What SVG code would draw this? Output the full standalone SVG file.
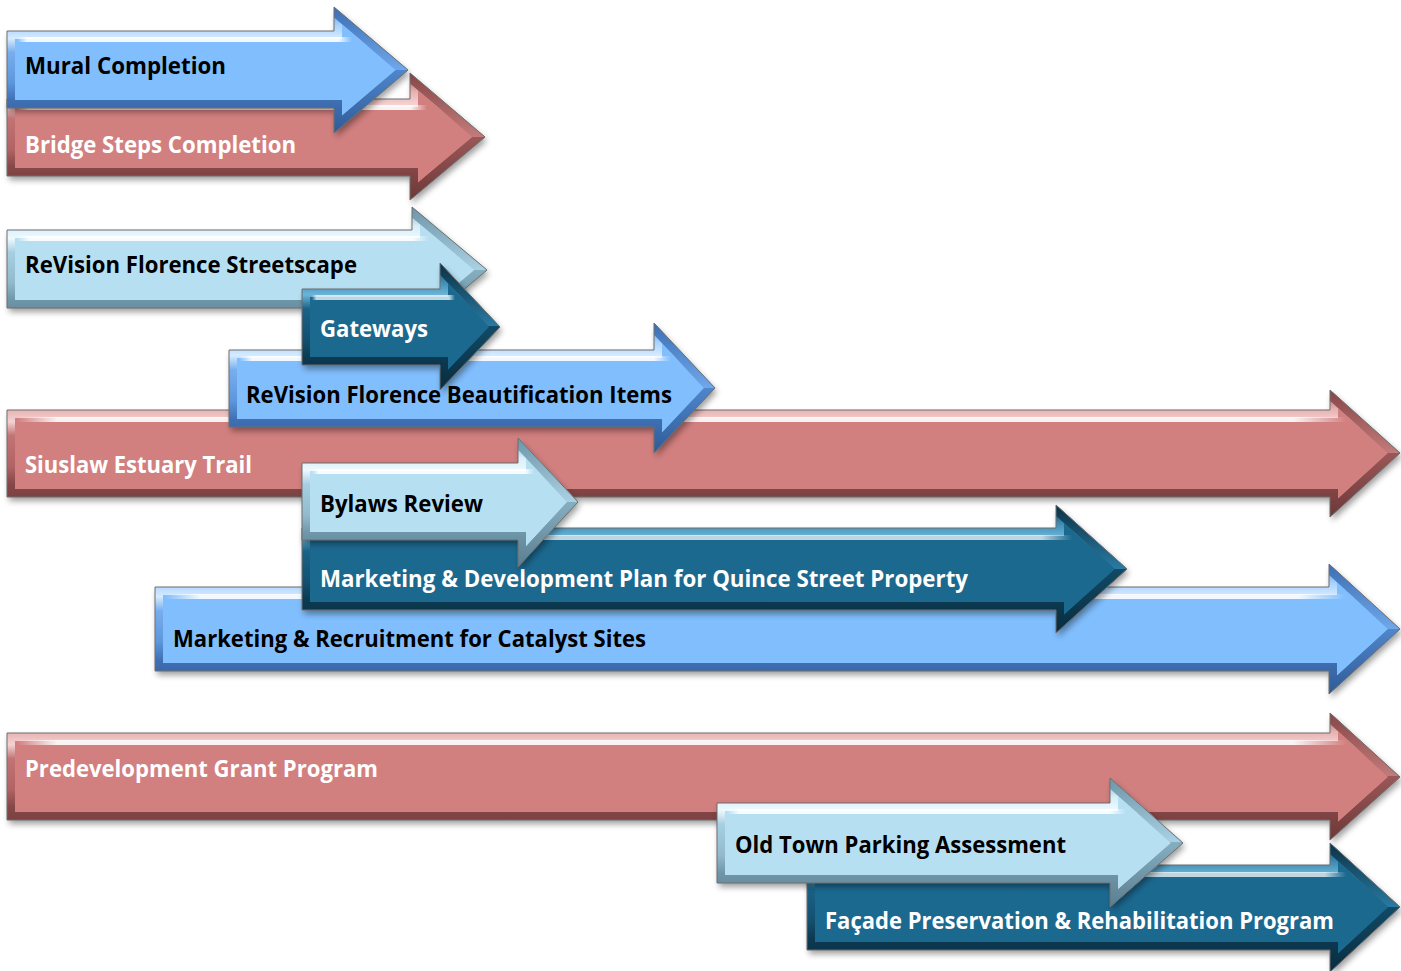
<svg xmlns="http://www.w3.org/2000/svg" width="1401" height="971" viewBox="0 0 1401 971">
<style>
.t{font-family:"Open Sans","Liberation Sans",sans-serif;font-weight:700;font-size:23px}
.dk{fill:#000}.wt{fill:#fff}
.sh{fill:#000;opacity:.38;filter:url(#blur)}
.ol{fill:none;stroke:#6f6f6f;stroke-width:1}
.bv{fill:none;stroke-width:16}
.hd{fill:none;stroke-width:16;stroke-linejoin:miter}
.fb{fill:#80BEFD}.fr{fill:#D27F7F}.fl{fill:#B7DFF2}.ft{fill:#1C6990}
</style>
<defs>
<filter id="blur" x="-5%" y="-30%" width="110%" height="160%"><feGaussianBlur stdDeviation="3"/></filter>
<linearGradient id="gb" x1="0" y1="0" x2="0" y2="1">
<stop offset="0" stop-color="#5A8FD4"/><stop offset="0.15" stop-color="#A9D2FF"/><stop offset="0.25" stop-color="#D6EBFF"/><stop offset="0.36" stop-color="#78AEEE"/><stop offset="0.6" stop-color="#5C96DC"/><stop offset="0.74" stop-color="#3F70B4"/><stop offset="1" stop-color="#2F5B96"/>
</linearGradient>
<linearGradient id="gr" x1="0" y1="0" x2="0" y2="1">
<stop offset="0" stop-color="#9A5555"/><stop offset="0.15" stop-color="#E7B2B2"/><stop offset="0.25" stop-color="#F4D2D2"/><stop offset="0.36" stop-color="#C27373"/><stop offset="0.6" stop-color="#B26464"/><stop offset="0.74" stop-color="#864747"/><stop offset="1" stop-color="#6E3838"/>
</linearGradient>
<linearGradient id="gl" x1="0" y1="0" x2="0" y2="1">
<stop offset="0" stop-color="#7FA6BA"/><stop offset="0.15" stop-color="#D6EEF9"/><stop offset="0.25" stop-color="#EEF9FE"/><stop offset="0.36" stop-color="#A6CFE2"/><stop offset="0.6" stop-color="#93BACC"/><stop offset="0.74" stop-color="#6F95A8"/><stop offset="1" stop-color="#5A7E90"/>
</linearGradient>
<linearGradient id="gt" x1="0" y1="0" x2="0" y2="1">
<stop offset="0" stop-color="#0E3F58"/><stop offset="0.15" stop-color="#3F8DB5"/><stop offset="0.25" stop-color="#6CB5D8"/><stop offset="0.36" stop-color="#1A6288"/><stop offset="0.6" stop-color="#13506F"/><stop offset="0.74" stop-color="#0C3A52"/><stop offset="1" stop-color="#082C3E"/>
</linearGradient>
<linearGradient id="hb" x1="0" y1="0" x2="0" y2="1">
<stop offset="0" stop-color="#3C6FB5"/><stop offset="0.5" stop-color="#6FA7EA"/><stop offset="0.5" stop-color="#4F86CC"/><stop offset="1" stop-color="#2F5B96"/>
</linearGradient>
<linearGradient id="hr" x1="0" y1="0" x2="0" y2="1">
<stop offset="0" stop-color="#884646"/><stop offset="0.5" stop-color="#C27B7B"/><stop offset="0.5" stop-color="#9A5757"/><stop offset="1" stop-color="#6E3838"/>
</linearGradient>
<linearGradient id="hl2" x1="0" y1="0" x2="0" y2="1">
<stop offset="0" stop-color="#6E95A8"/><stop offset="0.5" stop-color="#AAD1E3"/><stop offset="0.5" stop-color="#86AEC1"/><stop offset="1" stop-color="#5A7E90"/>
</linearGradient>
<linearGradient id="ht" x1="0" y1="0" x2="0" y2="1">
<stop offset="0" stop-color="#0B3246"/><stop offset="0.5" stop-color="#2A7AA2"/><stop offset="0.5" stop-color="#114A66"/><stop offset="1" stop-color="#082C3E"/>
</linearGradient>
<linearGradient id="hl" x1="0" y1="0" x2="1" y2="0">
<stop offset="0" stop-color="#fff" stop-opacity="0"/><stop offset="0.03" stop-color="#fff" stop-opacity="0.9"/><stop offset="0.96" stop-color="#fff" stop-opacity="0.9"/><stop offset="1" stop-color="#fff" stop-opacity="0"/>
</linearGradient>
<polygon id="p1" points="7,31 334,31 334,7 408,70 334,133 334,108 7,108"/>
<polygon id="p2" points="7,99 410,99 410,73 485,137 410,200 410,176 7,176"/>
<polygon id="p3" points="7,230 412,230 412,207 487,270 412,333 412,308 7,308"/>
<polygon id="p4" points="302,289 440,289 440,263 500,327 440,390 440,365 302,365"/>
<polygon id="p5" points="229,350 654,350 654,323 715,388 654,453 654,427 229,427"/>
<polygon id="p6" points="7,410 1330,410 1330,390 1400,453 1330,517 1330,497 7,497"/>
<polygon id="p7" points="302,463 518,463 518,438 578,502 518,567 518,540 302,540"/>
<polygon id="p8" points="302,528 1056,528 1056,505 1127,569 1056,633 1056,610 302,610"/>
<polygon id="p9" points="155,587 1329,587 1329,564 1400,629 1329,694 1329,671 155,671"/>
<polygon id="p10" points="7,733 1330,733 1330,713 1400,777 1330,840 1330,820 7,820"/>
<polygon id="p11" points="717,803 1110,803 1110,778 1183,843 1110,907 1110,883 717,883"/>
<polygon id="p12" points="807,865 1330,865 1330,843 1400,907 1330,972 1330,950 807,950"/>
<clipPath id="c1"><use href="#p1"/></clipPath>
<clipPath id="c2"><use href="#p2"/></clipPath>
<clipPath id="c3"><use href="#p3"/></clipPath>
<clipPath id="c4"><use href="#p4"/></clipPath>
<clipPath id="c5"><use href="#p5"/></clipPath>
<clipPath id="c6"><use href="#p6"/></clipPath>
<clipPath id="c7"><use href="#p7"/></clipPath>
<clipPath id="c8"><use href="#p8"/></clipPath>
<clipPath id="c9"><use href="#p9"/></clipPath>
<clipPath id="c10"><use href="#p10"/></clipPath>
<clipPath id="c11"><use href="#p11"/></clipPath>
<clipPath id="c12"><use href="#p12"/></clipPath>
</defs>
<rect width="1401" height="971" fill="#fff"/>
<g id="connectors"></g>

<g id="node-bridge-steps">
<use href="#p2" class="sh" transform="translate(2,4)"/>
<use href="#p2" class="fr"/>
<use href="#p2" class="bv" stroke="url(#gr)" clip-path="url(#c2)"/>
<polyline points="410,73 485,137 410,200" class="hd" stroke="url(#hr)" clip-path="url(#c2)"/>
<rect x="17" y="105" width="410" height="5" fill="url(#hl)" clip-path="url(#c2)"/>
<use href="#p2" class="ol"/>
<text class="t wt" x="25" y="153" textLength="271" lengthAdjust="spacingAndGlyphs">Bridge Steps Completion</text>
</g>

<g id="node-mural">
<use href="#p1" class="sh" transform="translate(2,4)"/>
<use href="#p1" class="fb"/>
<use href="#p1" class="bv" stroke="url(#gb)" clip-path="url(#c1)"/>
<polyline points="334,7 408,70 334,133" class="hd" stroke="url(#hb)" clip-path="url(#c1)"/>
<rect x="17" y="37" width="335" height="5" fill="url(#hl)" clip-path="url(#c1)"/>
<use href="#p1" class="ol"/>
<text class="t dk" x="25" y="74" textLength="201" lengthAdjust="spacingAndGlyphs">Mural Completion</text>
</g>

<g id="node-siuslaw">
<use href="#p6" class="sh" transform="translate(2,4)"/>
<use href="#p6" class="fr"/>
<use href="#p6" class="bv" stroke="url(#gr)" clip-path="url(#c6)"/>
<polyline points="1330,390 1400,453 1330,517" class="hd" stroke="url(#hr)" clip-path="url(#c6)"/>
<rect x="17" y="417" width="1330" height="5" fill="url(#hl)" clip-path="url(#c6)"/>
<use href="#p6" class="ol"/>
<text class="t wt" x="25" y="473" textLength="227" lengthAdjust="spacingAndGlyphs">Siuslaw Estuary Trail</text>
</g>

<g id="node-streetscape">
<use href="#p3" class="sh" transform="translate(2,4)"/>
<use href="#p3" class="fl"/>
<use href="#p3" class="bv" stroke="url(#gl)" clip-path="url(#c3)"/>
<polyline points="412,207 487,270 412,333" class="hd" stroke="url(#hl2)" clip-path="url(#c3)"/>
<rect x="17" y="236" width="412" height="5" fill="url(#hl)" clip-path="url(#c3)"/>
<use href="#p3" class="ol"/>
<text class="t dk" x="25" y="273" textLength="332" lengthAdjust="spacingAndGlyphs">ReVision Florence Streetscape</text>
</g>

<g id="node-beautification">
<use href="#p5" class="sh" transform="translate(2,4)"/>
<use href="#p5" class="fb"/>
<use href="#p5" class="bv" stroke="url(#gb)" clip-path="url(#c5)"/>
<polyline points="654,323 715,388 654,453" class="hd" stroke="url(#hb)" clip-path="url(#c5)"/>
<rect x="239" y="356" width="432" height="5" fill="url(#hl)" clip-path="url(#c5)"/>
<use href="#p5" class="ol"/>
<text class="t dk" x="246" y="403" textLength="426" lengthAdjust="spacingAndGlyphs">ReVision Florence Beautification Items</text>
</g>

<g id="node-gateways">
<use href="#p4" class="sh" transform="translate(2,4)"/>
<use href="#p4" class="ft"/>
<use href="#p4" class="bv" stroke="url(#gt)" clip-path="url(#c4)"/>
<polyline points="440,263 500,327 440,390" class="hd" stroke="url(#ht)" clip-path="url(#c4)"/>
<rect x="312" y="295" width="143" height="5" fill="url(#hl)" opacity="0.8" clip-path="url(#c4)"/>
<use href="#p4" class="ol"/>
<text class="t wt" x="320" y="337" textLength="108" lengthAdjust="spacingAndGlyphs">Gateways</text>
</g>

<g id="node-marketing-recruitment">
<use href="#p9" class="sh" transform="translate(2,4)"/>
<use href="#p9" class="fb"/>
<use href="#p9" class="bv" stroke="url(#gb)" clip-path="url(#c9)"/>
<polyline points="1329,564 1400,629 1329,694" class="hd" stroke="url(#hb)" clip-path="url(#c9)"/>
<rect x="165" y="594" width="1181" height="5" fill="url(#hl)" clip-path="url(#c9)"/>
<use href="#p9" class="ol"/>
<text class="t dk" x="173" y="647" textLength="473" lengthAdjust="spacingAndGlyphs">Marketing &amp; Recruitment for Catalyst Sites</text>
</g>

<g id="node-marketing-development">
<use href="#p8" class="sh" transform="translate(2,4)"/>
<use href="#p8" class="ft"/>
<use href="#p8" class="bv" stroke="url(#gt)" clip-path="url(#c8)"/>
<polyline points="1056,505 1127,569 1056,633" class="hd" stroke="url(#ht)" clip-path="url(#c8)"/>
<rect x="312" y="535" width="760" height="5" fill="url(#hl)" opacity="0.8" clip-path="url(#c8)"/>
<use href="#p8" class="ol"/>
<text class="t wt" x="320" y="587" textLength="648" lengthAdjust="spacingAndGlyphs">Marketing &amp; Development Plan for Quince Street Property</text>
</g>

<g id="node-bylaws">
<use href="#p7" class="sh" transform="translate(2,4)"/>
<use href="#p7" class="fl"/>
<use href="#p7" class="bv" stroke="url(#gl)" clip-path="url(#c7)"/>
<polyline points="518,438 578,502 518,567" class="hd" stroke="url(#hl2)" clip-path="url(#c7)"/>
<rect x="312" y="469" width="222" height="5" fill="url(#hl)" clip-path="url(#c7)"/>
<use href="#p7" class="ol"/>
<text class="t dk" x="320" y="512" textLength="163" lengthAdjust="spacingAndGlyphs">Bylaws Review</text>
</g>

<g id="node-predevelopment">
<use href="#p10" class="sh" transform="translate(2,4)"/>
<use href="#p10" class="fr"/>
<use href="#p10" class="bv" stroke="url(#gr)" clip-path="url(#c10)"/>
<polyline points="1330,713 1400,777 1330,840" class="hd" stroke="url(#hr)" clip-path="url(#c10)"/>
<rect x="17" y="740" width="1330" height="5" fill="url(#hl)" clip-path="url(#c10)"/>
<use href="#p10" class="ol"/>
<text class="t wt" x="25" y="777" textLength="353" lengthAdjust="spacingAndGlyphs">Predevelopment Grant Program</text>
</g>

<g id="node-facade">
<use href="#p12" class="sh" transform="translate(2,4)"/>
<use href="#p12" class="ft"/>
<use href="#p12" class="bv" stroke="url(#gt)" clip-path="url(#c12)"/>
<polyline points="1330,843 1400,907 1330,972" class="hd" stroke="url(#ht)" clip-path="url(#c12)"/>
<rect x="817" y="872" width="529" height="5" fill="url(#hl)" opacity="0.8" clip-path="url(#c12)"/>
<use href="#p12" class="ol"/>
<text class="t wt" x="825" y="929" textLength="509" lengthAdjust="spacingAndGlyphs">Façade Preservation &amp; Rehabilitation Program</text>
</g>

<g id="node-old-town-parking">
<use href="#p11" class="sh" transform="translate(2,4)"/>
<use href="#p11" class="fl"/>
<use href="#p11" class="bv" stroke="url(#gl)" clip-path="url(#c11)"/>
<polyline points="1110,778 1183,843 1110,907" class="hd" stroke="url(#hl2)" clip-path="url(#c11)"/>
<rect x="727" y="809" width="399" height="5" fill="url(#hl)" clip-path="url(#c11)"/>
<use href="#p11" class="ol"/>
<text class="t dk" x="735" y="853" textLength="331" lengthAdjust="spacingAndGlyphs">Old Town Parking Assessment</text>
</g>
</svg>
